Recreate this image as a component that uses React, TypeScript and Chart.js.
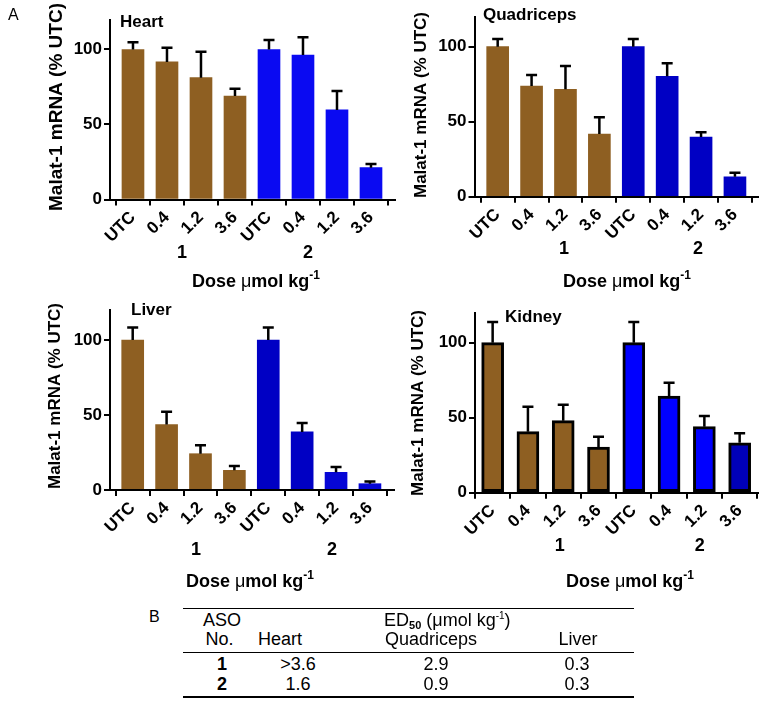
import React, { useEffect, useRef } from 'react';
import { Chart, registerables } from 'chart.js';

Chart.register(...registerables);

// ---------- data ----------
const doseLabels = ['UTC', '0.4', '1.2', '3.6', 'UTC', '0.4', '1.2', '3.6'];
const groupLabels = ['1', '2'];
const yTickValues = [0, 50, 100];
const yMax = 120;

const heartMean = [100, 91.7, 81.2, 69, 100, 96.3, 59.7, 21.2];
const heartSem = [4.8, 9.5, 17.3, 4.9, 6.3, 11.8, 12.6, 2.5];

const quadMean = [100, 73.8, 71.6, 41.8, 100, 80.3, 39.8, 13.3];
const quadSem = [5.1, 7.3, 15.5, 11.1, 5.1, 8.6, 3.1, 2.7];

const liverMean = [100, 43.6, 24.2, 13.1, 100, 38.7, 11.8, 4.2];
const liverSem = [8.4, 8.6, 5.6, 2.9, 8.4, 6.0, 3.5, 1.4];

const kidneyMean = [100, 40.7, 48, 30.4, 100, 64.4, 44, 33.3];
const kidneySem = [13.8, 16.6, 10.7, 6.9, 13.8, 8.9, 7.1, 6.3];

const asoNumbers = ['1', '2'];
const ed50Heart = ['>3.6', '1.6'];
const ed50Quad = ['2.9', '0.9'];
const ed50Liver = ['0.3', '0.3'];

// ---------- styles ----------
const FONT = '"Liberation Sans", Arial, Helvetica, sans-serif';
const BROWN = '#8E5F22';

type Panel = {
  title: string;
  mean: number[];
  sem: number[];
  colors: string[];
  border: number;
  left: number;
  top: number;
  w: number;
  h: number;
  yW: number;
  padTop: number;
  xH: number;
  padRight: number;
  xMin: number;
  xMax: number;
  titleX: number;
  titleY: number;
  yTitleX: number;
  yTitleY: number;
  yTitleSize: number;
  groupPos: number[];
  groupY: number;
  doseX: number;
  doseY: number;
};

const panels: Panel[] = [
  {
    title: 'Heart', mean: heartMean, sem: heartSem,
    colors: [BROWN, BROWN, BROWN, BROWN, '#0A0AF2', '#0A0AF2', '#0A0AF2', '#0A0AF2'], border: 0,
    left: 0, top: 0, w: 400, h: 300, yW: 110, padTop: 19.5, xH: 100.5, padRight: 5,
    xMin: -0.676, xMax: 7.706, titleX: 120, titleY: 27, yTitleX: 57, yTitleY: 107, yTitleSize: 19,
    groupPos: [1.44, 5.15], groupY: 258, doseX: 256, doseY: 287,
  },
  {
    title: 'Quadriceps', mean: quadMean, sem: quadSem,
    colors: [BROWN, BROWN, BROWN, BROWN, '#0000C4', '#0000C4', '#0000C4', '#0000C4'], border: 0,
    left: 380, top: 0, w: 381, h: 300, yW: 94.5, padTop: 16.7, xH: 103.3, padRight: 3,
    xMin: -0.684, xMax: 7.68, titleX: 103, titleY: 20, yTitleX: 41, yTitleY: 105, yTitleSize: 17,
    groupPos: [1.96, 5.91], groupY: 254, doseX: 247, doseY: 287,
  },
  {
    title: 'Liver', mean: liverMean, sem: liverSem,
    colors: [BROWN, BROWN, BROWN, BROWN, '#0000C4', '#0000C4', '#0606D6', '#0606D6'], border: 0,
    left: 0, top: 300, w: 400, h: 300, yW: 110, padTop: 10, xH: 110, padRight: 6,
    xMin: -0.67, xMax: 7.71, titleX: 131, titleY: 15, yTitleX: 55.5, yTitleY: 96, yTitleSize: 17,
    groupPos: [1.87, 5.88], groupY: 255, doseX: 250, doseY: 287,
  },
  {
    title: 'Kidney', mean: kidneyMean, sem: kidneySem,
    colors: [BROWN, BROWN, BROWN, BROWN, '#0000FF', '#0000FF', '#0000FF', '#0000B8'], border: 3,
    left: 380, top: 300, w: 381, h: 300, yW: 95, padTop: 12.7, xH: 107.3, padRight: 3,
    xMin: -0.5, xMax: 7.52, titleX: 125, titleY: 21.5, yTitleX: 38, yTitleY: 103, yTitleSize: 17,
    groupPos: [1.9, 5.87], groupY: 251, doseX: 250, doseY: 287,
  },
];

function makePlugin(p: Panel) {
  return {
    id: 'panelDecor',
    afterDatasetsDraw(chart: any) {
      const ctx = chart.ctx;
      const meta = chart.getDatasetMeta(0);
      const ys = chart.scales.y;
      ctx.save();
      ctx.strokeStyle = '#000';
      ctx.lineWidth = 2.5;
      meta.data.forEach((bar: any, i: number) => {
        const x = bar.x;
        const yTop = ys.getPixelForValue(p.mean[i]);
        const yErr = ys.getPixelForValue(p.mean[i] + p.sem[i]);
        ctx.beginPath();
        ctx.moveTo(x, yTop);
        ctx.lineTo(x, yErr);
        ctx.moveTo(x - 5.5, yErr);
        ctx.lineTo(x + 5.5, yErr);
        ctx.stroke();
      });
      ctx.restore();
    },
    afterDraw(chart: any) {
      const ctx = chart.ctx;
      ctx.save();
      ctx.fillStyle = '#000';
      // panel title
      ctx.font = `bold 17px ${FONT}`;
      ctx.textAlign = 'left';
      ctx.textBaseline = 'alphabetic';
      ctx.fillText(p.title, p.titleX, p.titleY);
      // y title
      ctx.save();
      ctx.translate(p.yTitleX, p.yTitleY);
      ctx.rotate(-Math.PI / 2);
      ctx.font = `bold ${p.yTitleSize}px ${FONT}`;
      ctx.textAlign = 'center';
      ctx.textBaseline = 'middle';
      ctx.fillText('Malat-1 mRNA (% UTC)', 0, 0);
      ctx.restore();
      // group labels
      ctx.font = `bold 18px ${FONT}`;
      ctx.textAlign = 'center';
      ctx.textBaseline = 'alphabetic';
      groupLabels.forEach((g, k) => {
        ctx.fillText(g, chart.scales.x.getPixelForValue(p.groupPos[k]), p.groupY);
      });
      // dose title
      const parts = [
        { t: 'Dose ', f: `bold 18px ${FONT}` },
        { t: 'μ', f: `18px ${FONT}` },
        { t: 'mol kg', f: `bold 18px ${FONT}` },
      ];
      const sup = { t: '-1', f: `bold 12px ${FONT}` };
      let total = 0;
      parts.forEach((pt) => { ctx.font = pt.f; total += ctx.measureText(pt.t).width; });
      ctx.font = sup.f;
      total += ctx.measureText(sup.t).width;
      let x = p.doseX - total / 2;
      ctx.textAlign = 'left';
      parts.forEach((pt) => {
        ctx.font = pt.f;
        ctx.fillText(pt.t, x, p.doseY);
        x += ctx.measureText(pt.t).width;
      });
      ctx.font = sup.f;
      ctx.fillText(sup.t, x, p.doseY - 8);
      ctx.restore();
    },
  };
}

function PanelChart({ p }: { p: Panel }) {
  const ref = useRef<HTMLCanvasElement>(null);
  useEffect(() => {
    const tickFont = { family: FONT, weight: 'bold' as const, size: 17 };
    const chart = new Chart(ref.current as HTMLCanvasElement, {
      type: 'bar',
      data: {
        datasets: [
          {
            data: p.mean.map((v, i) => ({ x: i, y: v })),
            backgroundColor: p.colors,
            borderColor: '#000',
            borderWidth: p.border,
            borderSkipped: false,
            barThickness: 22,
          } as any,
        ],
      },
      options: {
        animation: false,
        responsive: false,
        devicePixelRatio: 1,
        events: [],
        layout: { padding: { left: 0, top: p.padTop, right: p.padRight, bottom: 0 } },
        plugins: { legend: { display: false }, tooltip: { enabled: false }, title: { display: false } },
        scales: {
          x: {
            type: 'linear',
            min: p.xMin,
            max: p.xMax,
            offset: false,
            afterBuildTicks: (s: any) => { s.ticks = doseLabels.map((_, i) => ({ value: i })); },
            afterFit: (s: any) => { s.height = p.xH; s.paddingLeft = 0; s.paddingRight = 0; },
            ticks: {
              autoSkip: false, minRotation: 45, maxRotation: 45, padding: 2, color: '#000', font: tickFont,
              callback: (_v: any, i: number) => doseLabels[i],
            },
            grid: { display: true, drawOnChartArea: false, drawTicks: true, tickLength: 6, color: '#000', lineWidth: 2 },
            border: { display: true, color: '#000', width: 2, z: 1 },
          },
          y: {
            type: 'linear',
            min: 0,
            max: yMax,
            afterBuildTicks: (s: any) => { s.ticks = yTickValues.map((v) => ({ value: v })); },
            afterFit: (s: any) => { s.width = p.yW; s.paddingTop = 0; s.paddingBottom = 0; },
            ticks: { padding: 2, color: '#000', font: tickFont, callback: (v: any) => String(v) },
            grid: { display: true, drawOnChartArea: false, drawTicks: true, tickLength: 6, color: '#000', lineWidth: 2 },
            border: { display: true, color: '#000', width: 2, z: 1 },
          },
        },
      } as any,
      plugins: [makePlugin(p)],
    });
    return () => chart.destroy();
  }, []);
  return (
    <canvas
      ref={ref}
      width={p.w}
      height={p.h}
      style={{ position: 'absolute', left: p.left, top: p.top, width: p.w, height: p.h }}
    />
  );
}

function Txt({ x, y, size = 18, bold = false, align = 'left', children }: any) {
  return (
    <div
      style={{
        position: 'absolute',
        left: x,
        top: y - 0.8465 * size,
        fontFamily: FONT,
        fontSize: size,
        fontWeight: bold ? 'bold' : 'normal',
        lineHeight: `${size}px`,
        whiteSpace: 'nowrap',
        color: '#000',
        transform: align === 'center' ? 'translateX(-50%)' : undefined,
      }}
    >
      {children}
    </div>
  );
}

function Rule({ y }: { y: number }) {
  return <div style={{ position: 'absolute', left: 183, top: y - 0.75, width: 451, height: 1.5, background: '#000' }} />;
}

export default function App() {
  const rowY = [670, 690];
  return (
    <div style={{ position: 'absolute', left: 0, top: 0, width: 761, height: 701, background: '#fff', overflow: 'hidden' }}>
      {panels.map((p) => (
        <PanelChart key={p.title} p={p} />
      ))}
      <Txt x={8} y={21} size={16}>A</Txt>
      <Txt x={149} y={623} size={16}>B</Txt>
      <Rule y={608.5} />
      <Rule y={652.5} />
      <Rule y={697} />
      <Txt x={222} y={626} align="center">ASO</Txt>
      <Txt x={384} y={626}>
        ED<span style={{ fontWeight: 'bold', fontSize: 11, position: 'relative', top: 3 }}>50</span> (μmol kg
        <span style={{ fontSize: 10, position: 'relative', top: -7 }}>-1</span>)
      </Txt>
      <Txt x={219.5} y={645} align="center">No.</Txt>
      <Txt x={280} y={645} align="center">Heart</Txt>
      <Txt x={431} y={645} align="center">Quadriceps</Txt>
      <Txt x={578} y={645} align="center">Liver</Txt>
      {asoNumbers.map((n, r) => (
        <React.Fragment key={n}>
          <Txt x={222} y={rowY[r]} bold align="center">{n}</Txt>
          <Txt x={298} y={rowY[r]} align="center">{ed50Heart[r]}</Txt>
          <Txt x={436} y={rowY[r]} align="center">{ed50Quad[r]}</Txt>
          <Txt x={577} y={rowY[r]} align="center">{ed50Liver[r]}</Txt>
        </React.Fragment>
      ))}
    </div>
  );
}
